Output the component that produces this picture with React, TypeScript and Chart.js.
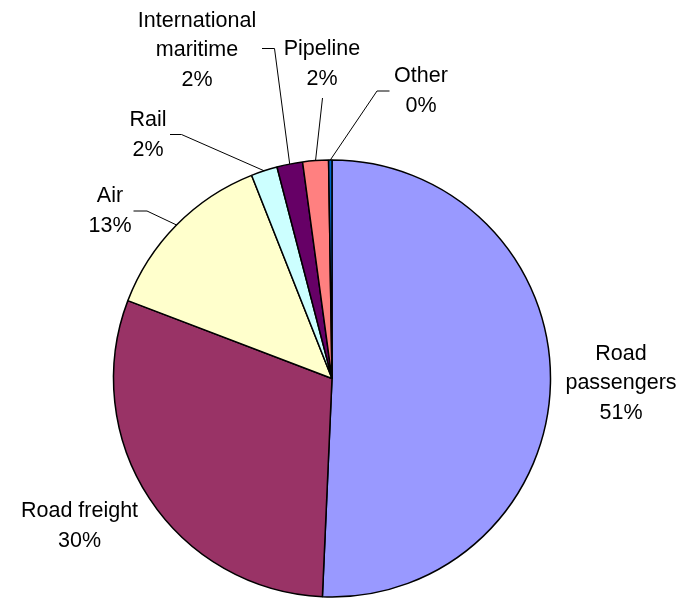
import React, { useEffect, useRef } from "react";
import { Chart, registerables } from "chart.js";

Chart.register(...registerables);

// Transport emissions by mode (share of total)
const categories = [
  "Road passengers",
  "Road freight",
  "Air",
  "Rail",
  "International maritime",
  "Pipeline",
  "Other",
];
const shares = [50.7, 30.1, 13.2, 1.95, 1.9, 1.9, 0.25];
const labelLines = [
  ["Road", "passengers"],
  ["Road freight"],
  ["Air"],
  ["Rail"],
  ["International", "maritime"],
  ["Pipeline"],
  ["Other"],
];
const sliceColors = [
  "#9999FF",
  "#993366",
  "#FFFFCC",
  "#CCFFFF",
  "#660066",
  "#FF8080",
  "#0066CC",
];

// Label placement: text centre x, first baseline y, and leader elbow (null = no leader)
type LabelPos = {
  x: number;
  y: number;
  leader: null | { from: [number, number]; elbow: [number, number] | null };
};
const labelPlacement: LabelPos[] = [
  { x: 621, y: 359.5, leader: null },
  { x: 79.5, y: 517, leader: null },
  { x: 110, y: 202, leader: { from: [133.5, 211], elbow: [147, 211] } },
  { x: 148, y: 126, leader: { from: [170, 134.5], elbow: [181.5, 134.5] } },
  { x: 197, y: 26.5, leader: { from: [262, 48.5], elbow: [274.5, 48.5] } },
  { x: 322, y: 55, leader: { from: [322.5, 98], elbow: null } },
  { x: 421, y: 82, leader: { from: [389.5, 91], elbow: [377, 91] } },
];

const FONT = '21.5px "Liberation Sans", Arial, sans-serif';
const LINE_H = 29.5;

const pieLabels = {
  id: "pieLabels",
  afterDatasetsDraw(chart: any) {
    const { ctx } = chart;
    const meta = chart.getDatasetMeta(0);
    const values: number[] = chart.data.datasets[0].data;
    const total = values.reduce((a, b) => a + b, 0);
    ctx.save();
    meta.data.forEach((arc: any, i: number) => {
      const p = arc.getProps(["x", "y", "startAngle", "endAngle", "outerRadius"], true);
      const mid = (p.startAngle + p.endAngle) / 2;
      const place = labelPlacement[i];
      if (place.leader) {
        const ex = p.x + Math.cos(mid) * p.outerRadius;
        const ey = p.y + Math.sin(mid) * p.outerRadius;
        ctx.beginPath();
        ctx.strokeStyle = "#000";
        ctx.lineWidth = 1;
        ctx.moveTo(place.leader.from[0], place.leader.from[1]);
        if (place.leader.elbow) ctx.lineTo(place.leader.elbow[0], place.leader.elbow[1]);
        ctx.lineTo(ex, ey);
        ctx.stroke();
      }
      const pct = Math.round((values[i] / total) * 100) + "%";
      const lines = [...labelLines[i], pct];
      ctx.font = FONT;
      ctx.fillStyle = "#000";
      ctx.textAlign = "center";
      ctx.textBaseline = "alphabetic";
      lines.forEach((t, k) => ctx.fillText(t, place.x, place.y + k * LINE_H));
    });
    ctx.restore();
  },
};

export default function App() {
  const ref = useRef<HTMLCanvasElement | null>(null);

  useEffect(() => {
    if (!ref.current) return;
    const chart = new Chart(ref.current, {
      type: "pie",
      data: {
        labels: categories,
        datasets: [
          {
            data: shares,
            backgroundColor: sliceColors,
            borderColor: "#000",
            borderWidth: 1.5,
          },
        ],
      },
      options: {
        responsive: false,
        animation: false,
        radius: 218.5,
        layout: { padding: { left: 0, right: 28, top: 159, bottom: 0 } },
        plugins: {
          legend: { display: false },
          tooltip: { enabled: false },
        },
      },
      plugins: [pieLabels],
    });
    return () => chart.destroy();
  }, []);

  return (
    <div style={{ position: "absolute", left: 0, top: 0, width: 692, height: 598, background: "#fff" }}>
      <canvas ref={ref} width={692} height={598} style={{ display: "block" }} />
    </div>
  );
}
